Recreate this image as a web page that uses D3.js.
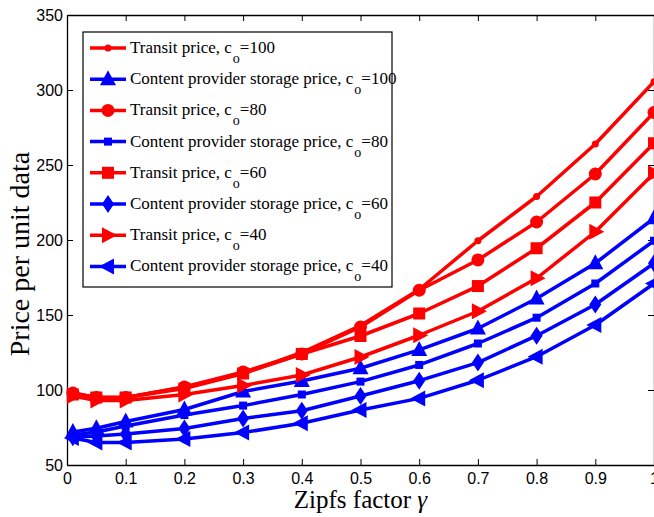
<!DOCTYPE html>
<html>
<head>
<script src="https://cdn.jsdelivr.net/npm/d3@7"></script>
<style>
  body { margin: 0; background: #fff; }
  .tick text { font-family: "Liberation Sans", Arial, sans-serif; font-size: 16px; fill: #000; }
  .line { fill: none; stroke-width: 3.5px; stroke-linejoin: round; }
</style>
</head>
<body>
<script>
// gamma values on the x axis
var gamma = [0.01, 0.05, 0.1, 0.2, 0.3, 0.4, 0.5, 0.6, 0.7, 0.8, 0.9, 1.0];

// transit prices (red)
var transit100 = [98, 95, 95, 102, 111, 125, 143, 167, 199.5, 229, 264, 305.5];
var transit80  = [98, 95, 95, 102, 112, 124, 142, 166.5, 186.7, 212, 244, 285];
var transit60  = [97, 95, 95, 101, 111, 124, 136, 151, 169.3, 194.5, 225, 264.5];
var transit40  = [96, 93, 93, 97, 103, 110, 122, 136.5, 152.5, 174.5, 205.5, 244.5];

// content provider storage prices (blue)
var storage100 = [72, 74.5, 79, 87, 99, 106, 114.5, 126.7, 141, 161, 184.5, 214.5];
var storage80  = [70, 72, 76, 83.3, 89.6, 97, 105.6, 116.7, 131, 148.2, 171, 199.5];
var storage60  = [68.5, 69.3, 70.7, 74.4, 81, 86.2, 96, 106.2, 118.3, 136.2, 157, 184.5];
var storage40  = [68, 65, 65, 67.3, 71.6, 77.8, 86.7, 94.4, 106.5, 122.2, 143.3, 171];

var xTicks = [0, 0.1, 0.2, 0.3, 0.4, 0.5, 0.6, 0.7, 0.8, 0.9, 1];
var yTicks = [50, 100, 150, 200, 250, 300, 350];

var series = [
  {name: "Transit price, c", sub: "o", tail: "=100", values: transit100, color: "#ff0000", marker: "dot"},
  {name: "Content provider storage price, c", sub: "o", tail: "=100", values: storage100, color: "#0000ff", marker: "up"},
  {name: "Transit price, c", sub: "o", tail: "=80", values: transit80, color: "#ff0000", marker: "circle"},
  {name: "Content provider storage price, c", sub: "o", tail: "=80", values: storage80, color: "#0000ff", marker: "plus"},
  {name: "Transit price, c", sub: "o", tail: "=60", values: transit60, color: "#ff0000", marker: "square"},
  {name: "Content provider storage price, c", sub: "o", tail: "=60", values: storage60, color: "#0000ff", marker: "diamond"},
  {name: "Transit price, c", sub: "o", tail: "=40", values: transit40, color: "#ff0000", marker: "right"},
  {name: "Content provider storage price, c", sub: "o", tail: "=40", values: storage40, color: "#0000ff", marker: "left"}
];

var margin = {top: 15, right: 0, bottom: 52, left: 67},
    W = 654, H = 517,
    width = 587, height = 450;

var x = d3.scaleLinear().domain([0, 1]).range([0, width]);
var y = d3.scaleLinear().domain([50, 350]).range([height, 0]);

var svg = d3.select("body").append("svg")
  .attr("width", W).attr("height", H);
var g = svg.append("g")
  .attr("transform", "translate(" + margin.left + "," + margin.top + ")");

// axes with inward ticks, box on top and right
g.append("g")
  .attr("transform", "translate(0," + height + ")")
  .call(d3.axisBottom(x).tickValues(xTicks).tickSizeInner(-6).tickSizeOuter(0).tickPadding(8)
    .tickFormat(function(d) { return d === 0 ? "0" : d === 1 ? "1" : d3.format(".1f")(d); }));
g.append("g")
  .call(d3.axisLeft(y).tickValues(yTicks).tickSizeInner(-6).tickSizeOuter(0).tickPadding(4));
g.append("g")
  .call(d3.axisTop(x).tickValues(xTicks).tickSizeInner(-6).tickSizeOuter(0).tickFormat(""));
g.append("g")
  .attr("transform", "translate(" + width + ",0)")
  .call(d3.axisRight(y).tickValues(yTicks).tickSizeInner(-6).tickSizeOuter(0).tickFormat(""));
g.selectAll(".domain").attr("stroke", "#000").attr("stroke-width", 1.3);
g.selectAll(".tick line").attr("stroke", "#000");

// marker drawing
function drawMarker(sel, type, color) {
  if (type === "dot") {
    sel.append("circle").attr("r", 3.5).attr("fill", color);
  } else if (type === "circle") {
    sel.append("circle").attr("r", 6.5).attr("fill", color);
  } else if (type === "square") {
    sel.append("rect").attr("x", -6).attr("y", -6).attr("width", 12).attr("height", 12).attr("fill", color);
  } else if (type === "plus") {
    sel.append("rect").attr("x", -4).attr("y", -4).attr("width", 8).attr("height", 8).attr("fill", color);
  } else if (type === "diamond") {
    sel.append("path").attr("d", "M0,-9L6,0L0,9L-6,0Z").attr("fill", color);
  } else if (type === "up") {
    sel.append("path").attr("d", "M0,-9L8,6L-8,6Z").attr("fill", color);
  } else if (type === "right") {
    sel.append("path").attr("d", "M9,0L-6,-8L-6,8Z").attr("fill", color);
  } else if (type === "left") {
    sel.append("path").attr("d", "M-9,0L6,-8L6,8Z").attr("fill", color);
  }
}

var line = d3.line()
  .x(function(d, i) { return x(gamma[i]); })
  .y(function(d) { return y(d); });

series.forEach(function(s) {
  var sg = g.append("g");
  sg.append("path").datum(s.values).attr("class", "line")
    .attr("stroke", s.color).attr("d", line);
  sg.selectAll(".m").data(s.values).enter().append("g")
    .attr("transform", function(d, i) { return "translate(" + x(gamma[i]) + "," + y(d) + ")"; })
    .each(function() { drawMarker(d3.select(this), s.marker, s.color); });
});

// legend
var lg = svg.append("g").attr("transform", "translate(83,32)");
lg.append("rect").attr("width", 309).attr("height", 255)
  .attr("fill", "#fff").attr("stroke", "#000").attr("stroke-width", 1.2);
series.forEach(function(s, i) {
  var yy = 16 + i * 31.2;
  var it = lg.append("g").attr("transform", "translate(0," + yy + ")");
  it.append("line").attr("x1", 7).attr("x2", 43).attr("y1", 0).attr("y2", 0)
    .attr("stroke", s.color).attr("stroke-width", 3.5);
  drawMarker(it.append("g").attr("transform", "translate(25,0)"), s.marker, s.color);
  var t = it.append("text").attr("x", 47).attr("y", 5)
    .style("font-family", "'Liberation Serif', 'Times New Roman', serif")
    .style("font-size", "17px");
  t.append("tspan").text(s.name);
  t.append("tspan").attr("dy", 10).attr("dx", 1).style("font-size", "14px").text(s.sub);
  t.append("tspan").attr("dy", -10).text(s.tail);
});

// axis labels
svg.append("text")
  .attr("transform", "translate(29,254) rotate(-90)")
  .attr("text-anchor", "middle")
  .style("font-family", "'Liberation Serif', 'Times New Roman', serif")
  .style("font-size", "28px")
  .text("Price per unit data");
var xl = svg.append("text")
  .attr("x", margin.left + width / 2).attr("y", 508)
  .attr("text-anchor", "middle")
  .style("font-family", "'Liberation Serif', 'Times New Roman', serif")
  .style("font-size", "25px");
xl.append("tspan").text("Zipfs factor ");
xl.append("tspan").style("font-style", "italic").text("γ");
</script>
</body>
</html>
